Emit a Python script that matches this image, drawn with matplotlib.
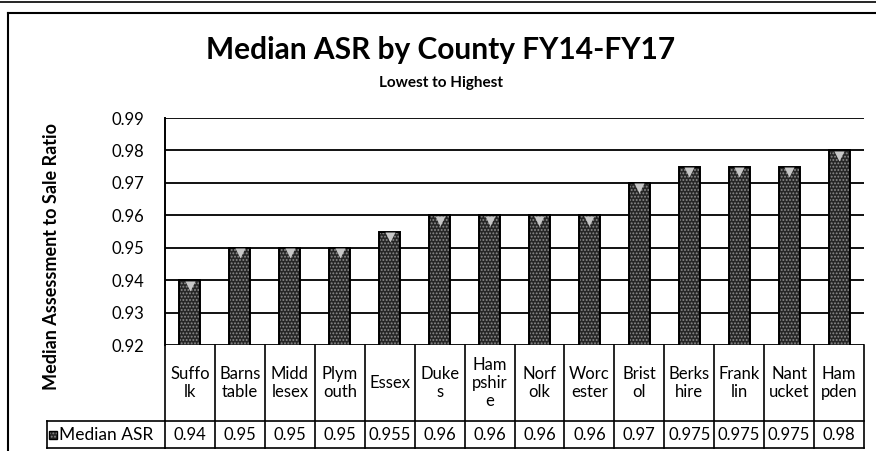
import matplotlib
matplotlib.use('Agg')
import matplotlib.pyplot as plt
import matplotlib.transforms as mtransforms
from matplotlib.lines import Line2D
from matplotlib.patches import Rectangle
import numpy as np

# ---- data ----
counties = ["Suffo\nlk", "Barns\ntable", "Midd\nlesex", "Plym\nouth", "Essex",
            "Duke\ns", "Ham\npshir\ne", "Norf\nolk", "Worc\nester", "Brist\nol",
            "Berks\nhire", "Frank\nlin", "Nant\nucket", "Ham\npden"]
values = [0.94, 0.95, 0.95, 0.95, 0.955, 0.96, 0.96, 0.96, 0.96, 0.97,
          0.975, 0.975, 0.975, 0.98]
value_labels = ["0.94", "0.95", "0.95", "0.95", "0.955", "0.96", "0.96", "0.96",
                "0.96", "0.97", "0.975", "0.975", "0.975", "0.98"]
yticks = [0.92, 0.93, 0.94, 0.95, 0.96, 0.97, 0.98, 0.99]
series_name = "Median ASR"
title = "Median ASR by County FY14-FY17"
subtitle = "Lowest to Highest"
ylabel = "Median Assessment to Sale Ratio"

plt.rcParams['font.family'] = ['Lato', 'DejaVu Sans']
plt.rcParams['hatch.linewidth'] = 0.9

W, H = 876, 451
fig = plt.figure(figsize=(W / 100, H / 100), dpi=100)
fig.patch.set_facecolor('white')

ax_l, ax_r, ax_t, ax_b = 165, 864, 118, 345
ax = fig.add_axes([ax_l / W, 1 - ax_b / H, (ax_r - ax_l) / W, (ax_b - ax_t) / H])
x = np.arange(len(values))
ax.set_xlim(-0.5, len(values) - 0.5)
ax.set_ylim(yticks[0], yticks[-1])
ax.set_yticks(yticks)
ax.set_yticklabels([f"{t:.2f}" for t in yticks], fontsize=12)
ax.tick_params(axis='y', length=0, pad=15)
ax.set_xticks([])
for s in ['top', 'right', 'bottom']:
    ax.spines[s].set_visible(False)
ax.spines['left'].set_linewidth(1.4)
ax.spines['left'].set_color('black')
ax.yaxis.grid(True, color='#111111', linewidth=1.4)
ax.set_axisbelow(True)

bw = 0.42
ax.bar(x, values, width=bw, color='#262626', edgecolor='#8c8c8c', hatch='.....',
       linewidth=0, zorder=2)
ax.bar(x, values, width=bw, fill=False, edgecolor='black', linewidth=1.4, zorder=3)
tri = ax.transData + mtransforms.ScaledTranslation(0, -4 / 72, fig.dpi_scale_trans)
ax.plot(x, values, 'v', ms=7, color='#c8c8c8', mec='none', transform=tri,
        zorder=4, clip_on=False)

# ---- data table ----
axh = ax_b - ax_t
r1 = -(421 - ax_b) / axh
r2 = -(448 - ax_b) / axh
tr = mtransforms.blended_transform_factory(ax.transData, ax.transAxes)
lkw = dict(color='black', linewidth=1.2, clip_on=False)
edges = np.arange(len(values) + 1) - 0.5
for e in edges:
    ax.add_line(Line2D([e, e], [0, r2], transform=tr, **lkw))
ax.add_line(Line2D([edges[0], edges[-1]], [r1, r1], transform=tr, **lkw))
ax.add_line(Line2D([edges[0], edges[-1]], [r2, r2], transform=tr, **lkw))
leg_left = (47 - ax_l) / (ax_r - ax_l)
ax.add_line(Line2D([leg_left, 0], [r1, r1], transform=ax.transAxes, **lkw))
ax.add_line(Line2D([leg_left, 0], [r2, r2], transform=ax.transAxes, **lkw))
ax.add_line(Line2D([leg_left, leg_left], [r1, r2], transform=ax.transAxes, **lkw))

for i, (c, v) in enumerate(zip(counties, value_labels)):
    ax.text(i, r1 / 2, c, transform=tr, ha='center', va='center', fontsize=12,
            linespacing=1.15, clip_on=False)
    ax.text(i, (r1 + r2) / 2, v, transform=tr, ha='center', va='center',
            fontsize=12, clip_on=False)

# legend key + name
kx = (49 - ax_l) / (ax_r - ax_l)
kw = 8 / (ax_r - ax_l)
kh = 8 / axh
ky = (r1 + r2) / 2 - kh / 2
ax.add_patch(Rectangle((kx, ky), kw, kh, transform=ax.transAxes, facecolor='#262626',
                       edgecolor='#8c8c8c', hatch='.....', linewidth=0, clip_on=False))
ax.add_patch(Rectangle((kx, ky), kw, kh, transform=ax.transAxes, fill=False,
                       edgecolor='black', linewidth=1, clip_on=False))
ax.text((59 - ax_l) / (ax_r - ax_l), (r1 + r2) / 2, series_name, transform=ax.transAxes,
        ha='left', va='center', fontsize=12.5, clip_on=False)

# ---- titles ----
fig.text(441 / W, 1 - 50 / H, title, ha='center', va='center', fontsize=21.5,
         fontweight='bold')
fig.text(441 / W, 1 - 83 / H, subtitle, ha='center', va='center', fontsize=11,
         fontweight='bold')
fig.text(52 / W, 1 - 256 / H, ylabel, ha='center', va='center', rotation=90,
         fontsize=13, fontweight='bold')

# ---- frame ----
fig.add_artist(Line2D([8 / W, 8 / W], [0, 1 - 13 / H], transform=fig.transFigure,
                      color='black', linewidth=1.5))
fig.add_artist(Line2D([8 / W, 1], [1 - 13 / H, 1 - 13 / H], transform=fig.transFigure,
                      color='black', linewidth=1.5))
fig.add_artist(Line2D([0, 1], [1 - 1.5 / H, 1 - 1.5 / H], transform=fig.transFigure,
                      color='black', linewidth=1.2))

fig.savefig('out.png', dpi=100, facecolor='white')
